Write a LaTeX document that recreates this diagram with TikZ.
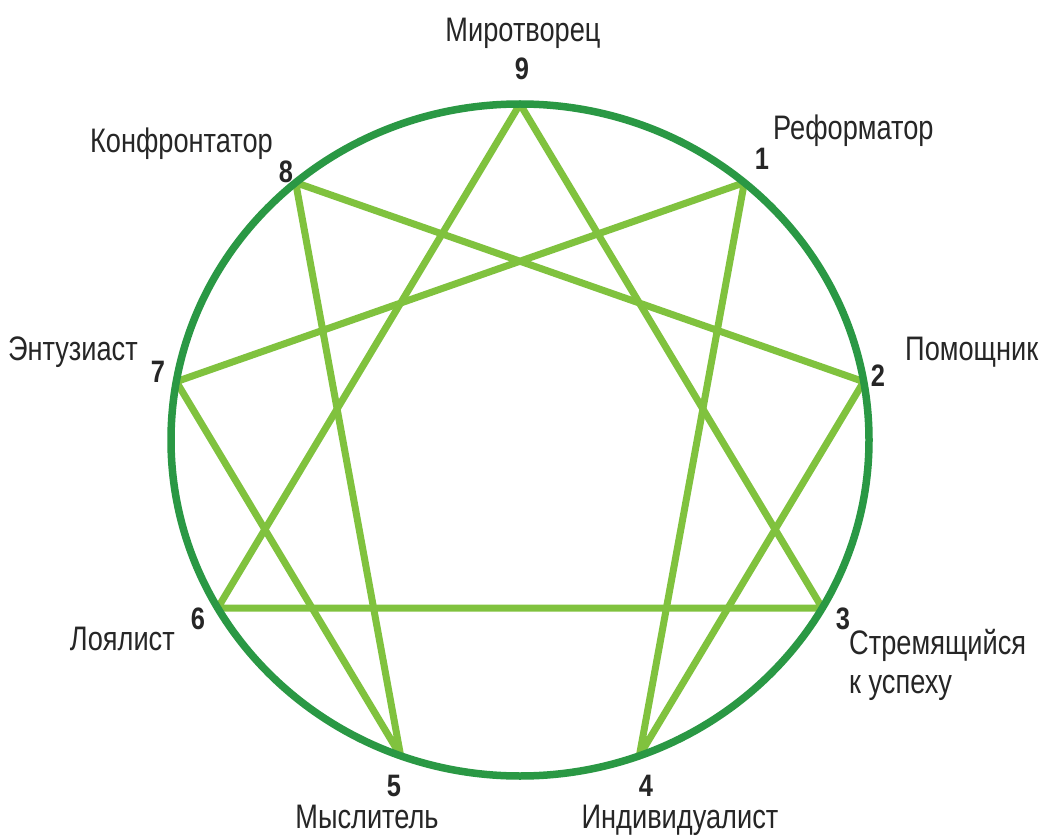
\documentclass[tikz,border=0pt]{standalone}
\usepackage{fontspec}
\setmainfont[FakeStretch=0.8]{Liberation Sans}
\newfontfamily\numfont[FakeStretch=0.82]{Liberation Sans}
\definecolor{ringgreen}{RGB}{42,152,68}
\definecolor{stargreen}{RGB}{128,194,62}
\definecolor{ink}{RGB}{38,38,38}
\begin{document}
\begin{tikzpicture}[x=1pt,y=-1pt,
  lab/.style={inner sep=0pt, text=ink, font=\fontsize{34}{40}\selectfont},
  num/.style={inner sep=0pt, text=ink, font=\numfont\bfseries\fontsize{31}{35}\selectfont},
  ring/.style={draw=ringgreen, line width=7.5pt},
  star/.style={draw=stargreen, line width=7pt, line join=round}]
\useasboundingbox (0,0) rectangle (1039,837);
\fill[white] (0,0) rectangle (1039,837);
\coordinate (c) at (520,440);
\foreach \i in {0,...,8}
  \coordinate (p\i) at ({520+349*cos(90-40*\i)}, {440-336*sin(90-40*\i)});
\draw[star] (p0) -- (p3) -- (p6) -- cycle;
\draw[star] (p1) -- (p4) -- (p2) -- (p8) -- (p5) -- (p7) -- cycle;
\draw[ring] (c) ellipse [x radius=349pt, y radius=336pt];
% numbers
\node[num] (d9) at (522,69) {9};
\node[num] (d1) at (762,159) {1};
\node[num] (d2) at (878,376) {2};
\node[num] (d3) at (843,619) {3};
\node[num] (d4) at (646,786) {4};
\node[num] (d5) at (394,786) {5};
\node[num] (d6) at (198,619) {6};
\node[num] (d7) at (158,372) {7};
\node[num] (d8) at (286,172) {8};
% names
\node[lab, anchor=base] (n9) at (523,42) {Миротворец};
\node[lab, anchor=base west] (n1) at (773,140) {Реформатор};
\node[lab, anchor=base west] (n2) at (905,360) {Помощник};
\node[lab, anchor=base west] (n3a) at (849,654) {Стремящийся};
\node[lab, anchor=base west] (n3b) at (849,693) {к успеху};
\node[lab, anchor=base] (n4) at (680,828) {Индивидуалист};
\node[lab, anchor=base] (n5) at (367,828) {Мыслитель};
\node[lab, anchor=base east] (n6) at (175,650) {Лоялист};
\node[lab, anchor=base east] (n7) at (138,360) {Энтузиаст};
\node[lab, anchor=base east] (n8) at (273,153) {Конфронтатор};
\end{tikzpicture}
\end{document}
